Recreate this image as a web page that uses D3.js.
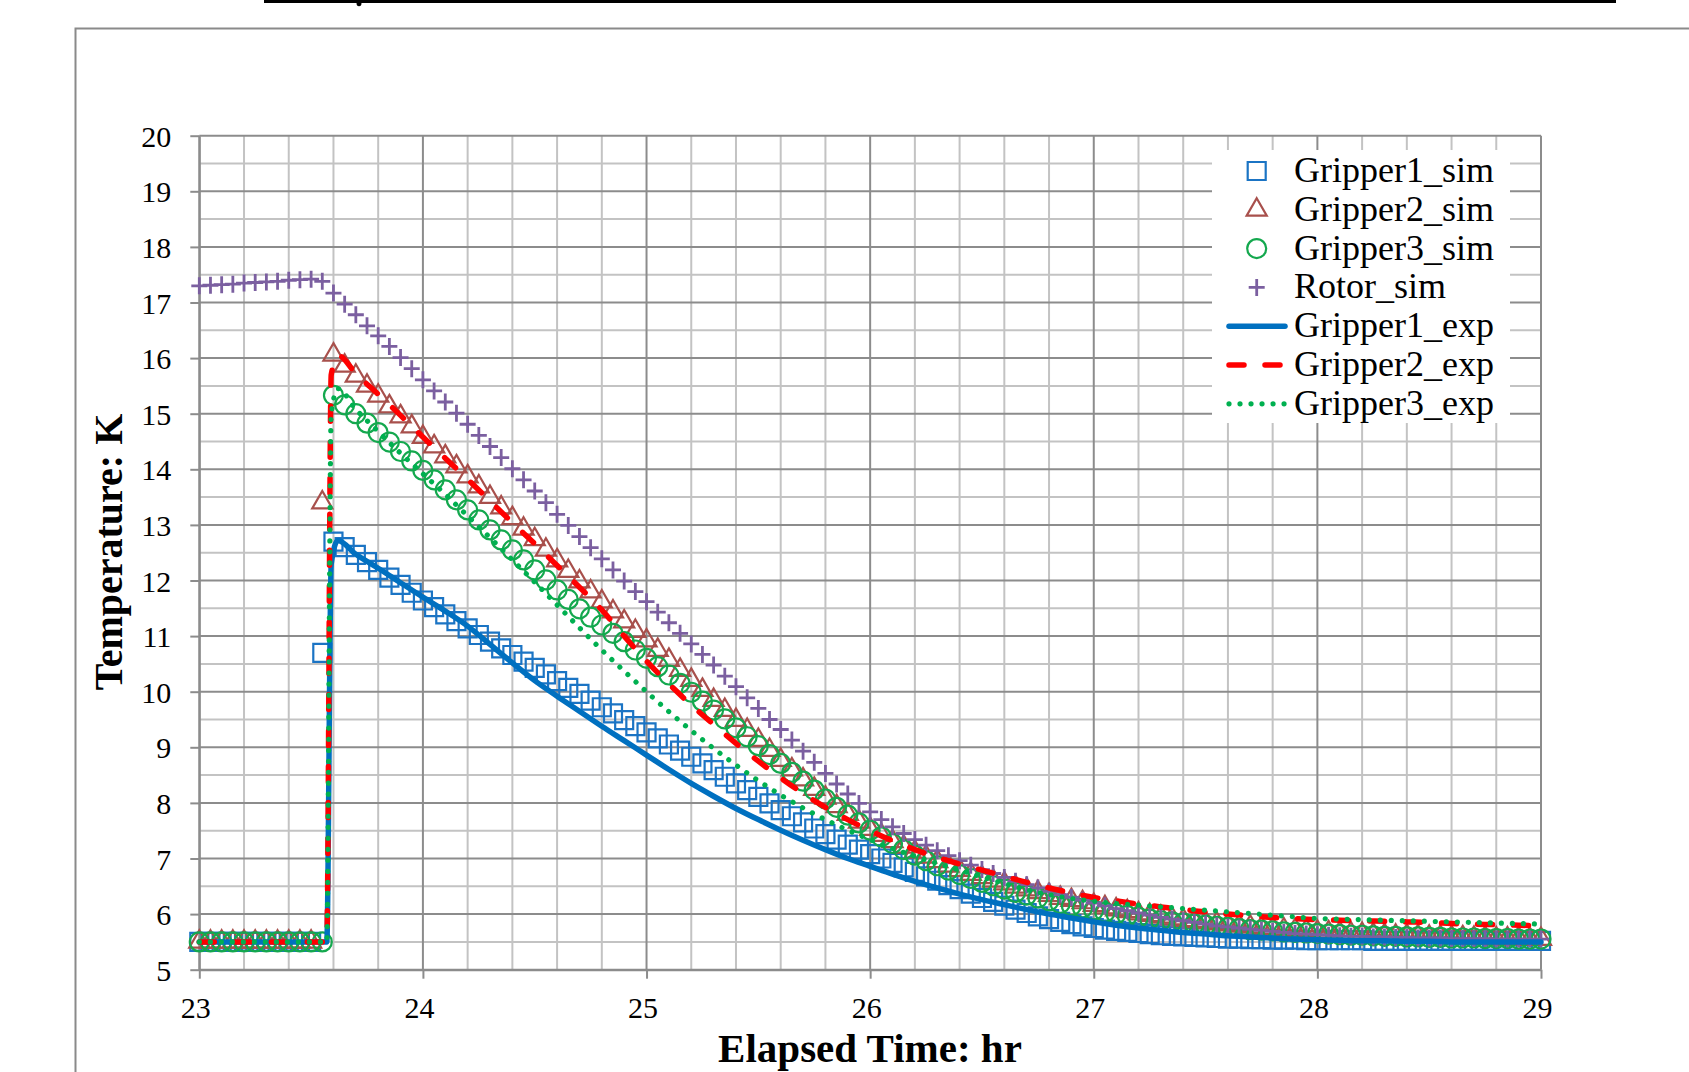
<!DOCTYPE html>
<html><head><meta charset="utf-8">
<script src="https://cdn.jsdelivr.net/npm/d3@7"></script>
<style>html,body{margin:0;padding:0;background:#fff;overflow:hidden}</style>
</head><body>
<svg id="chart" width="1689" height="1072"></svg>
<script>
// ---------------- DATA ----------------
const xTicks = [23, 24, 25, 26, 27, 28, 29];
const yTicks = [5, 6, 7, 8, 9, 10, 11, 12, 13, 14, 15, 16, 17, 18, 19, 20];
const xTitle = "Elapsed Time: hr";
const yTitle = "Temperature: K";

// simulation sample times (hr)
const simTime = [
  23.00,23.05,23.10,23.15,23.20,23.25,23.30,23.35,23.40,23.45,
  23.50,23.55,23.60,23.65,23.70,23.75,23.80,23.85,23.90,23.95,
  24.00,24.05,24.10,24.15,24.20,24.25,24.30,24.35,24.40,24.45,
  24.50,24.55,24.60,24.65,24.70,24.75,24.80,24.85,24.90,24.95,
  25.00,25.05,25.10,25.15,25.20,25.25,25.30,25.35,25.40,25.45,
  25.50,25.55,25.60,25.65,25.70,25.75,25.80,25.85,25.90,25.95,
  26.00,26.05,26.10,26.15,26.20,26.25,26.30,26.35,26.40,26.45,
  26.50,26.55,26.60,26.65,26.70,26.75,26.80,26.85,26.90,26.95,
  27.00,27.05,27.10,27.15,27.20,27.25,27.30,27.35,27.40,27.45,
  27.50,27.55,27.60,27.65,27.70,27.75,27.80,27.85,27.90,27.95,
  28.00,28.05,28.10,28.15,28.20,28.25,28.30,28.35,28.40,28.45,
  28.50,28.55,28.60,28.65,28.70,28.75,28.80,28.85,28.90,28.95,
  29.00
];
const gripper1Sim = [
  5.5,5.5,5.5,5.5,5.5,5.5,5.5,5.5,5.5,5.5,
  5.5,10.7,12.70,12.60,12.46,12.33,12.19,12.05,11.92,11.78,
  11.64,11.52,11.39,11.27,11.14,11.02,10.90,10.78,10.66,10.54,
  10.43,10.31,10.19,10.07,9.96,9.84,9.72,9.61,9.49,9.38,
  9.27,9.16,9.05,8.94,8.83,8.71,8.59,8.47,8.35,8.23,
  8.11,7.99,7.87,7.76,7.65,7.54,7.44,7.34,7.25,7.16,
  7.08,7.00,6.92,6.84,6.76,6.68,6.60,6.52,6.45,6.37,
  6.29,6.22,6.15,6.08,6.02,5.96,5.91,5.86,5.82,5.78,
  5.75,5.72,5.70,5.68,5.66,5.64,5.62,5.61,5.60,5.59,
  5.58,5.57,5.56,5.56,5.55,5.55,5.54,5.54,5.54,5.53,
  5.53,5.53,5.53,5.53,5.53,5.52,5.52,5.52,5.52,5.52,
  5.52,5.52,5.52,5.52,5.52,5.52,5.52,5.52,5.52,5.52,
  5.52
];
const gripper2Sim = [
  5.5,5.5,5.5,5.5,5.5,5.5,5.5,5.5,5.5,5.5,
  5.5,13.4,16.06,15.86,15.68,15.50,15.32,15.13,14.95,14.77,
  14.58,14.41,14.23,14.05,13.87,13.69,13.50,13.31,13.12,12.93,
  12.74,12.55,12.36,12.17,11.98,11.80,11.62,11.44,11.26,11.09,
  10.92,10.75,10.57,10.39,10.21,10.03,9.85,9.67,9.49,9.31,
  9.13,8.95,8.77,8.60,8.42,8.25,8.09,7.94,7.80,7.66,
  7.53,7.42,7.31,7.21,7.12,7.03,6.95,6.87,6.79,6.72,
  6.66,6.60,6.55,6.49,6.44,6.39,6.34,6.29,6.25,6.21,
  6.16,6.12,6.08,6.05,6.01,5.98,5.95,5.92,5.89,5.87,
  5.85,5.83,5.81,5.79,5.77,5.75,5.74,5.72,5.71,5.70,
  5.68,5.67,5.66,5.65,5.64,5.63,5.62,5.61,5.61,5.60,
  5.59,5.59,5.58,5.58,5.57,5.57,5.56,5.56,5.56,5.55,
  5.55
];
const gripper3Sim = [
  5.5,5.5,5.5,5.5,5.5,5.5,5.5,5.5,5.5,5.5,
  5.5,5.5,15.33,15.16,15.00,14.83,14.66,14.49,14.32,14.15,
  13.98,13.81,13.63,13.45,13.27,13.09,12.91,12.73,12.55,12.37,
  12.19,12.01,11.83,11.66,11.49,11.34,11.20,11.05,10.90,10.75,
  10.60,10.45,10.30,10.15,9.99,9.83,9.67,9.51,9.35,9.19,
  9.03,8.87,8.71,8.55,8.39,8.23,8.07,7.92,7.78,7.64,
  7.51,7.39,7.27,7.16,7.06,6.96,6.87,6.79,6.71,6.64,
  6.57,6.51,6.45,6.39,6.34,6.29,6.24,6.19,6.15,6.11,
  6.07,6.03,6.00,5.97,5.94,5.91,5.88,5.86,5.84,5.82,
  5.80,5.78,5.76,5.74,5.72,5.71,5.70,5.68,5.67,5.66,
  5.65,5.64,5.63,5.62,5.62,5.61,5.60,5.60,5.59,5.59,
  5.58,5.58,5.57,5.57,5.57,5.56,5.56,5.56,5.55,5.55,
  5.55
];
const rotorSim = [
  17.30,17.31,17.32,17.33,17.35,17.36,17.37,17.38,17.40,17.41,
  17.42,17.38,17.17,16.97,16.78,16.58,16.40,16.21,16.01,15.81,
  15.61,15.41,15.21,15.01,14.81,14.61,14.41,14.21,14.01,13.81,
  13.61,13.40,13.19,12.99,12.79,12.59,12.39,12.19,11.99,11.80,
  11.62,11.43,11.24,11.05,10.86,10.67,10.48,10.28,10.09,9.89,
  9.70,9.50,9.32,9.13,8.93,8.73,8.53,8.34,8.16,7.99,
  7.84,7.70,7.57,7.45,7.34,7.24,7.14,7.05,6.96,6.88,
  6.80,6.73,6.66,6.59,6.53,6.47,6.41,6.35,6.30,6.25,
  6.20,6.15,6.10,6.06,6.02,5.98,5.94,5.91,5.88,5.85,
  5.82,5.79,5.77,5.75,5.73,5.71,5.69,5.67,5.65,5.64,
  5.63,5.62,5.61,5.60,5.60,5.59,5.59,5.58,5.58,5.57,
  5.57,5.57,5.56,5.56,5.56,5.56,5.55,5.55,5.55,5.55,
  5.55
];

// experimental sample times (hr)
const expTime = [
  23.0,23.1,23.2,23.3,23.4,23.5,23.57,23.59,23.62,
  23.7,23.8,23.9,
  24.0,24.1,24.2,24.3,24.4,24.5,24.6,24.7,24.8,24.9,
  25.0,25.1,25.2,25.3,25.4,25.5,25.6,25.7,25.8,25.9,
  26.0,26.1,26.2,26.3,26.4,26.5,26.6,26.7,26.8,26.9,
  27.0,27.1,27.2,27.3,27.4,27.5,27.6,27.7,27.8,27.9,
  28.0,28.1,28.2,28.3,28.4,28.5,28.6,28.7,28.8,28.9,
  29.0
];
const gripper1Exp = [
  5.5,5.5,5.5,5.5,5.5,5.5,5.5,12.3,12.72,
  12.47,12.22,11.96,
  11.70,11.45,11.18,10.85,10.52,10.20,9.92,9.65,9.38,9.12,
  8.86,8.60,8.35,8.12,7.90,7.70,7.51,7.33,7.16,7.00,
  6.86,6.72,6.59,6.47,6.36,6.26,6.17,6.08,6.00,5.93,
  5.86,5.80,5.75,5.71,5.67,5.64,5.61,5.59,5.57,5.55,
  5.54,5.53,5.52,5.52,5.51,5.51,5.50,5.50,5.50,5.50,
  5.50
];
const gripper2Exp = [
  5.5,5.5,5.5,5.5,5.5,5.5,5.5,15.7,16.05,
  15.72,15.35,14.97,
  14.58,14.20,13.82,13.43,13.04,12.66,12.27,11.88,11.47,11.00,
  10.55,10.14,9.76,9.41,9.07,8.75,8.45,8.17,7.92,7.70,
  7.50,7.32,7.16,7.02,6.90,6.79,6.68,6.57,6.47,6.38,
  6.30,6.24,6.18,6.13,6.08,6.04,6.00,5.97,5.94,5.92,
  5.90,5.89,5.88,5.87,5.86,5.85,5.83,5.82,5.81,5.80,
  5.79
];
const gripper3Exp = [
  5.5,5.5,5.5,5.5,5.5,5.5,5.5,15.0,15.45,
  15.08,14.68,14.29,
  13.92,13.55,13.16,12.77,12.37,11.97,11.56,11.15,10.75,10.37,
  10.00,9.64,9.30,8.98,8.68,8.40,8.14,7.91,7.70,7.51,
  7.34,7.18,7.04,6.91,6.79,6.67,6.55,6.44,6.35,6.28,
  6.23,6.19,6.16,6.13,6.10,6.07,6.04,6.01,5.98,5.95,
  5.92,5.91,5.90,5.89,5.88,5.87,5.86,5.85,5.84,5.83,
  5.82
];

// ---------------- CHART ----------------
const W = 1689, H = 1072;
const FONT = "'Liberation Serif','Times New Roman',serif";
const svg = d3.select("#chart");
svg.append("rect").attr("width", W).attr("height", H).attr("fill", "#fff");

// cropped page remnants: black rule at top and outer chart frame
svg.append("rect").attr("x", 264).attr("y", 0).attr("width", 1352).attr("height", 3).attr("fill", "#000");
svg.append("ellipse").attr("cx", 359).attr("cy", 3).attr("rx", 2.5).attr("ry", 3.2).attr("fill", "#000");
svg.append("path").attr("d", "M75.5,1072V28.5H1689").attr("fill", "none")
  .attr("stroke", "#8a8a8a").attr("stroke-width", 2);

const P = {left: 199.3, right: 1541, top: 135.7, bottom: 969.7};
const x = d3.scaleLinear().domain([23, 29]).range([P.left, P.right]);
const y = d3.scaleLinear().domain([5, 20]).range([P.bottom, P.top]);

// gridlines
const grid = svg.append("g");
const minorX = d3.range(23, 29.0001, 0.2).filter(v => Math.abs(v - Math.round(v)) > 1e-6);
const minorY = d3.range(5, 20.0001, 0.5).filter(v => Math.abs(v - Math.round(v)) > 1e-6);
grid.selectAll(".mx").data(minorX).join("line")
  .attr("x1", d => x(d)).attr("x2", d => x(d)).attr("y1", P.top).attr("y2", P.bottom)
  .attr("stroke", "#c3c3c3").attr("stroke-width", 2);
grid.selectAll(".my").data(minorY).join("line")
  .attr("y1", d => y(d)).attr("y2", d => y(d)).attr("x1", P.left).attr("x2", P.right)
  .attr("stroke", "#c3c3c3").attr("stroke-width", 2);
grid.selectAll(".Mx").data(xTicks).join("line")
  .attr("x1", d => x(d)).attr("x2", d => x(d)).attr("y1", P.top).attr("y2", P.bottom)
  .attr("stroke", "#8c8c8c").attr("stroke-width", 2);
grid.selectAll(".My").data(yTicks).join("line")
  .attr("y1", d => y(d)).attr("y2", d => y(d)).attr("x1", P.left).attr("x2", P.right)
  .attr("stroke", "#8c8c8c").attr("stroke-width", 2);

// axes
const xAxis = svg.append("g").attr("transform", `translate(0,${P.bottom})`)
  .call(d3.axisBottom(x).tickValues(xTicks).tickSize(9).tickSizeOuter(0).tickFormat(d3.format("d")));
const yAxis = svg.append("g").attr("transform", `translate(${P.left},0)`)
  .call(d3.axisLeft(y).tickValues(yTicks).tickSize(9).tickSizeOuter(0).tickFormat(d3.format("d")));
[xAxis, yAxis].forEach(a => {
  a.select(".domain").attr("stroke", "#8c8c8c").attr("stroke-width", 2);
  a.selectAll(".tick line").attr("stroke", "#8c8c8c").attr("stroke-width", 2);
  a.selectAll("text").attr("font-family", FONT).attr("font-size", 30).attr("fill", "#000");
});
xAxis.selectAll("text").attr("y", 48).attr("dy", 0).attr("x", -4);
yAxis.selectAll("text").attr("x", -28).attr("dy", 10.5);

// titles
svg.append("text").attr("x", 870).attr("y", 1062).attr("text-anchor", "middle")
  .attr("font-family", FONT).attr("font-weight", "bold").attr("font-size", 41).text(xTitle);
svg.append("text").attr("transform", "translate(122,552) rotate(-90)").attr("text-anchor", "middle")
  .attr("font-family", FONT).attr("font-weight", "bold").attr("font-size", 40).text(yTitle);

// marker shapes
const symSquare = d3.symbol().type(d3.symbolSquare).size(18 * 18)();
const symTri = d3.symbol().type(d3.symbolTriangle).size(175)();
const symCircle = d3.symbol().type(d3.symbolCircle).size(Math.PI * 9.5 * 9.5)();
const symPlus = "M-8,0H8M0,-8.5V8.5";

const simSeries = [
  {name: "Gripper1_sim", vals: gripper1Sim, path: symSquare, color: "#1b74c4", sw: 2.2},
  {name: "Gripper2_sim", vals: gripper2Sim, path: symTri, color: "#a8504c", sw: 2.2},
  {name: "Gripper3_sim", vals: gripper3Sim, path: symCircle, color: "#14a84e", sw: 2.2},
  {name: "Rotor_sim", vals: rotorSim, path: symPlus, color: "#7b5fa0", sw: 2.8}
];
const expSeries = [
  {name: "Gripper1_exp", vals: gripper1Exp, color: "#0070c0", sw: 5.5, dash: null},
  {name: "Gripper2_exp", vals: gripper2Exp, color: "#ff0000", sw: 5.5, dash: "15,21"},
  {name: "Gripper3_exp", vals: gripper3Exp, color: "#00b050", sw: 5.2, dash: "0.01,11"}
];

simSeries.forEach(s => {
  svg.append("g").selectAll("path").data(simTime.map((t, i) => [t, s.vals[i]])).join("path")
    .attr("transform", d => `translate(${x(d[0])},${y(d[1])})`)
    .attr("d", s.path).attr("fill", "none").attr("stroke", s.color).attr("stroke-width", s.sw);
});

const line = d3.line().x(d => x(d[0])).y(d => y(d[1])).curve(d3.curveMonotoneX);
expSeries.forEach(s => {
  svg.append("path").datum(expTime.map((t, i) => [t, s.vals[i]]))
    .attr("d", line).attr("fill", "none").attr("stroke", s.color).attr("stroke-width", s.sw)
    .attr("stroke-linecap", "round").attr("stroke-linejoin", "round")
    .attr("stroke-dasharray", s.dash);
});

// legend
const lg = svg.append("g");
lg.append("rect").attr("x", 1212).attr("y", 150).attr("width", 298).attr("height", 273).attr("fill", "#fff");
const rowY = i => 171 + 38.8 * i;
simSeries.forEach((s, i) => {
  lg.append("path").attr("transform", `translate(1256.7,${rowY(i)})`).attr("d", s.path)
    .attr("fill", "none").attr("stroke", s.color).attr("stroke-width", s.sw);
});
expSeries.forEach((s, i) => {
  const yy = rowY(i + 4);
  lg.append("line").attr("x1", 1229).attr("x2", 1285).attr("y1", yy).attr("y2", yy)
    .attr("stroke", s.color).attr("stroke-width", s.sw).attr("stroke-linecap", "round")
    .attr("stroke-dasharray", s.dash);
});
[...simSeries, ...expSeries].forEach((s, i) => {
  lg.append("text").attr("x", 1294).attr("y", rowY(i) + 11).attr("font-family", FONT)
    .attr("font-size", 36).attr("fill", "#000").text(s.name);
});
</script>
</body></html>
